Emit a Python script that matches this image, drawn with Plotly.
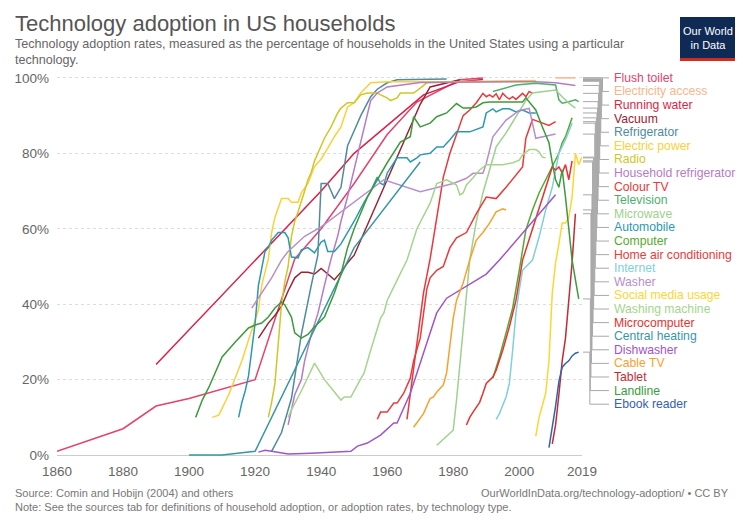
import plotly.graph_objects as go

# ---------------- data (year, % of households) ----------------
flush_toilet = [(1860, 1), (1880, 7), (1890, 13), (1900, 15), (1920, 20), (1932, 52), (1940, 60),
                (1950, 72), (1960, 85), (1969, 93.6), (1982, 99.5), (1989, 100)]
electricity_access = [(2011, 100), (2012, 100), (2013, 100), (2014, 100), (2015, 100), (2016, 100), (2017, 100)]
running_water = [(1890, 24), (1940, 70), (1950, 80), (1960, 87.5), (1971, 95.5), (1982, 99), (1989, 99.6)]
vacuum = [(1921, 31), (1924, 35), (1926, 37), (1928, 39.5), (1930, 43.5), (1932, 47), (1934, 48.5), (1936, 48.5),
          (1938, 48), (1940, 49.5), (1942, 48), (1944, 46.5), (1946, 48.5), (1948, 51), (1950, 53), (1960, 73),
          (1970, 93), (1973, 97.6), (1982, 99.5)]
refrigerator = [(1925, 1), (1928, 6), (1931, 15), (1934, 32), (1937, 45), (1939, 53), (1940, 72), (1942, 72),
                (1943, 70), (1944, 68), (1946, 71), (1948, 82), (1950, 86), (1952, 90), (1955, 95), (1957, 97),
                (1960, 98.7), (1963, 99.5), (1978, 99.7)]
electric_power = [(1907, 10), (1909, 10.6), (1912, 16), (1914, 20.7), (1916, 25), (1918, 30.5), (1921, 38.5),
                  (1922, 45), (1924, 52), (1925, 59), (1926, 63), (1928, 68), (1930, 68), (1931, 67), (1933, 67),
                  (1934, 69.5), (1936, 72), (1938, 76.5), (1940, 78.5), (1942, 81.4), (1944, 84.4), (1946, 87),
                  (1948, 92.3), (1950, 93.4), (1952, 96), (1955, 98.7), (1960, 99), (1980, 99), (2005, 99.3)]
radio = [(1924, 10), (1925, 14), (1926, 19), (1927, 30), (1928, 40), (1929, 46), (1930, 50), (1931, 58), (1932, 62),
         (1933, 64.5), (1934, 67), (1935, 70), (1936, 73), (1937, 75), (1938, 78), (1939, 80), (1940, 82), (1941, 84),
         (1943, 87), (1945, 90.7), (1946, 92), (1948, 93.4), (1950, 93.4), (1952, 95.5), (1954, 96), (1957, 96),
         (1958, 95.5), (1960, 94.7), (1961, 94), (1963, 94.7), (1964, 96), (1968, 96), (1970, 97.3), (1972, 98.7),
         (1980, 99), (2005, 99.1)]
household_refrigerator = [(1930, 8), (1931, 12), (1932, 16), (1934, 20), (1935, 25), (1937, 32), (1939, 37.5),
                          (1941, 45), (1943, 52), (1945, 58), (1946, 62), (1948, 68.5), (1950, 76), (1952, 83),
                          (1954, 90.7), (1955, 94), (1957, 96), (1960, 97.6), (1970, 98.8), (1990, 99), (2005, 99),
                          (2011, 98.7), (2017, 98)]
colour_tv = [(1966, 9.5), (1967, 16.4), (1969, 29.7), (1971, 43), (1973, 52), (1975, 63), (1977, 73.7), (1979, 80),
             (1981, 85), (1983, 90), (1985, 91.5), (1987, 93.4), (1989, 95.9), (1990, 95.0), (1991, 95.5),
             (1992, 94.9), (1993, 95.8), (1994, 94.2), (1995, 95.9), (1996, 95.0), (1997, 94.4), (1998, 95.0),
             (1999, 94.3), (2000, 95.0), (2001, 95.9), (2002, 95.0), (2003, 96.4), (2004, 95.9)]
television = [(1992, 96.4), (1999, 98.1), (2005, 98.6), (2011, 98.1), (2012, 94.2), (2013, 93.3), (2015, 93.7),
              (2017, 94.2), (2018, 93.7)]
microwave = [(1975, 2.6), (1980, 6.6), (1981, 14.6), (1983, 34), (1985, 51.7), (1987, 62), (1989, 69.5),
             (1991, 75.6), (1993, 81.7), (1996, 85.4), (1999, 89.7), (2002, 94), (2004, 96), (2011, 96.8),
             (2013, 95), (2015, 93.3), (2017, 92)]
automobile = [(1915, 10), (1916, 14), (1917, 17), (1918, 21), (1919, 28), (1920, 35), (1921, 45), (1922, 50),
              (1923, 54), (1924, 55), (1925, 57), (1927, 59), (1929, 59), (1930, 57.6), (1931, 52.5), (1933, 52.3),
              (1934, 54.4), (1936, 55), (1937, 54.4), (1938, 53.6), (1940, 56.5), (1941, 57), (1942, 54),
              (1944, 54), (1946, 56), (1950, 62), (1953, 67), (1955, 70), (1957, 73.7), (1958, 72), (1959, 71.6),
              (1960, 74.8), (1963, 78.8), (1966, 78.8), (1967, 77.7), (1969, 78.8), (1970, 79.6), (1973, 80),
              (1975, 81.7), (1977, 81.7), (1979, 83.6), (1981, 85.7), (1985, 85.7), (1989, 87), (1990, 90.7),
              (1992, 91.8), (1993, 91), (1995, 91.8), (1997, 91.8), (1999, 91), (2001, 91.5), (2003, 90.7),
              (2005, 90.7)]
computer = [(1992, 20.4), (1994, 26), (1996, 32.4), (1998, 39), (2000, 49), (2002, 59.7), (2004, 65), (2006, 69.5),
            (2008, 73), (2010, 76.4), (2012, 80), (2013, 82.8), (2014, 84.4), (2016, 89.4)]
home_air_conditioning = [(1957, 9.5), (1958, 11.4), (1960, 11.4), (1962, 13.8), (1963, 13.8), (1965, 16.4),
                         (1967, 20.4), (1968, 25), (1970, 31), (1971, 38), (1972, 44), (1973, 47), (1975, 49),
                         (1977, 50), (1979, 55), (1981, 57.6), (1984, 59), (1987, 64), (1990, 68.4), (1993, 68),
                         (1996, 71), (2001, 76.4), (2002, 84), (2004, 89), (2007, 88), (2009, 87.4), (2011, 88.4)]
internet = [(1993, 9.5), (1994, 11), (1996, 15.4), (1997, 19), (1998, 27.8), (1999, 37.7), (2000, 43.8),
            (2001, 49), (2004, 51.7), (2006, 57.8), (2008, 65), (2010, 71), (2012, 80), (2014, 83.6), (2016, 88)]
washer = [(1919, 39), (1922, 43), (1925, 47), (1928, 51.7), (1930, 54), (1935, 58), (1940, 60.5), (1959, 73),
          (1970, 69.8), (1980, 72), (1984, 73.4), (1986, 74.7), (1989, 74.7), (1990, 77.3), (1992, 84.4),
          (1996, 88.8), (2000, 91.4), (2003, 91.9), (2005, 84), (2011, 85.1)]
social_media_usage = [(2005, 5), (2006, 10), (2008, 16.4), (2009, 25), (2010, 43), (2011, 51), (2012, 56),
                      (2013, 61.5), (2014, 61.5), (2015, 63), (2016, 68.4), (2017, 80), (2018, 77), (2019, 79)]
washing_machine = [(1930, 10), (1931, 12), (1934, 17), (1938, 24.4), (1941, 20), (1944, 16.7), (1946, 14.6),
                   (1947, 15.4), (1949, 15.4), (1951, 18.6), (1953, 21.8), (1955, 27.8), (1958, 36.3), (1959, 37.7),
                   (1960, 41), (1963, 46.4), (1966, 51.7), (1969, 60), (1973, 66.8), (1975, 72), (1978, 73),
                   (1981, 71.6), (1982, 69), (1983, 69.5), (1984, 71.6), (1986, 73.5), (1988, 75.6), (1990, 77),
                   (1995, 77), (1998, 77.5), (2000, 78.2), (2001, 79.6), (2003, 81), (2005, 81), (2006, 80.4),
                   (2007, 79), (2008, 78.8)]
microcomputer = [(1984, 8), (1985, 10), (1986, 11.4), (1988, 14), (1989, 16.4), (1990, 19), (1992, 20.7),
                 (1993, 22.5), (1995, 27.8), (1997, 34), (1999, 41), (2000, 47), (2001, 51.7), (2010, 76.4),
                 (2011, 75.6), (2012, 76.4), (2013, 74.8), (2014, 77), (2015, 73), (2016, 78)]
central_heating = [(1900, 0), (1910, 0), (1920, 1), (1950, 55), (1970, 77.7)]
dishwasher = [(1921, 0.8), (1923, 1.3), (1925, 1), (1930, 0.3), (1937, 0.5), (1946, 0.8), (1949, 1), (1951, 2.4),
              (1954, 3.2), (1958, 5.3), (1962, 8.5), (1963, 8.5), (1967, 16.4), (1972, 29.7), (1975, 37.7),
              (1978, 41.6), (1990, 48), (1994, 51.7), (2011, 69)]
cable_tv = [(1968, 7.4), (1969, 8.5), (1971, 11), (1973, 15), (1974, 15.4), (1975, 16.7), (1977, 18.6),
            (1978, 21.8), (1979, 28.6), (1980, 36.3), (1981, 41), (1983, 45.6), (1985, 51.7), (1987, 57),
            (1989, 59), (1991, 61.5), (1993, 64.5), (1995, 65.3), (1996, 65)]
tablet = [(2010, 3), (2011, 8), (2012, 16), (2013, 25), (2014, 31), (2015, 40), (2016, 51), (2017, 64)]
landline = [(1902, 10), (1904, 14.6), (1906, 18), (1910, 26), (1914, 30), (1918, 33.7), (1920, 34.5), (1922, 35),
            (1924, 36.6), (1926, 39), (1928, 40.6), (1929, 39.8), (1931, 36.6), (1932, 32.4), (1934, 31),
            (1936, 32), (1938, 34), (1941, 36.6), (1944, 43), (1946, 48), (1948, 55), (1950, 60), (1954, 68.4),
            (1960, 77.5), (1964, 83), (1967, 84.4), (1968, 89.7), (1970, 87), (1973, 88), (1975, 89.7),
            (1978, 90.7), (1981, 93.2), (1983, 92), (1985, 92), (1987, 92.3), (1989, 93.4), (1991, 93.6),
            (2001, 93.6), (2002, 94.7), (2005, 91.5), (2007, 87), (2009, 82.8), (2010, 77.5), (2011, 73),
            (2012, 71), (2013, 75.6), (2014, 68.4), (2015, 59), (2016, 51.7), (2018, 41.4)]
ebook_reader = [(2009, 2), (2010, 7), (2011, 13), (2012, 19.5), (2013, 23.3), (2014, 24.3), (2015, 25),
                (2016, 26.3), (2017, 27), (2018, 27.3)]

# legend order (top to bottom) with colours
series = [
    ("Flush toilet", flush_toilet, "#e2436f"),
    ("Electricity access", electricity_access, "#f8b68c"),
    ("Running water", running_water, "#dc1f47"),
    ("Vacuum", vacuum, "#9a2233"),
    ("Refrigerator", refrigerator, "#4f8b9b"),
    ("Electric power", electric_power, "#fcd03a"),
    ("Radio", radio, "#cfc726"),
    ("Household refrigerator", household_refrigerator, "#b47cc8"),
    ("Colour TV", colour_tv, "#e8383b"),
    ("Television", television, "#4fae6c"),
    ("Microwave", microwave, "#9fd08e"),
    ("Automobile", automobile, "#2b99b0"),
    ("Computer", computer, "#55aa2f"),
    ("Home air conditioning", home_air_conditioning, "#ea3a3a"),
    ("Internet", internet, "#80cfdb"),
    ("Washer", washer, "#b78fca"),
    ("Social media usage", social_media_usage, "#fdd634"),
    ("Washing machine", washing_machine, "#a6d48e"),
    ("Microcomputer", microcomputer, "#e5332f"),
    ("Central heating", central_heating, "#3896a4"),
    ("Dishwasher", dishwasher, "#a055c8"),
    ("Cable TV", cable_tv, "#f8a12e"),
    ("Tablet", tablet, "#c42a33"),
    ("Landline", landline, "#3c9b3c"),
    ("Ebook reader", ebook_reader, "#3461b0"),
]

x_ticks = [1860, 1880, 1900, 1920, 1940, 1960, 1980, 2000, 2019]
y_ticks = [0, 20, 40, 60, 80, 100]

# ---------------- layout geometry ----------------
W, H = 744, 525
L, R, T, B = 57, 582, 76, 457
Y0, Y1 = -0.5, 100.5
FONT = "Liberation Sans, Arial, sans-serif"


def px_x(px):
    return (px - L) / (R - L)


def px_y(py):
    return (B - py) / (B - T)


def val_y(v):
    return (v - Y0) / (Y1 - Y0)


fig = go.Figure()
for name, pts, col in series:
    fig.add_trace(go.Scatter(
        x=[p[0] for p in pts], y=[p[1] for p in pts], mode="lines", name=name,
        line=dict(color=col, width=1.5), showlegend=False, hoverinfo="x+y+name"))

shapes = []
annotations = []
n = len(series)
step = (100 - 13.5) / (n - 1)
for i, (name, pts, col) in enumerate(series):
    label_v = 100 - i * step
    end_v = pts[-1][1]
    xm = px_x(603 - i * 0.55)
    path = "M {:.4f},{:.4f} L {:.4f},{:.4f} L {:.4f},{:.4f} L {:.4f},{:.4f}".format(
        px_x(583), val_y(end_v), xm, val_y(end_v), xm, val_y(label_v), px_x(609), val_y(label_v))
    shapes.append(dict(type="path", path=path, xref="paper", yref="paper",
                       line=dict(color="#a8a8a8", width=1)))
    annotations.append(dict(text=name, x=px_x(612), y=val_y(label_v), xref="paper", yref="paper",
                            xanchor="left", yanchor="middle", showarrow=False,
                            font=dict(size=12.2, color=col, family=FONT)))

# title & subtitle
annotations.append(dict(text="Technology adoption in US households", x=px_x(13), y=px_y(9),
                        xref="paper", yref="paper", xanchor="left", yanchor="top", showarrow=False,
                        font=dict(size=22, color="#555555", family=FONT)))
annotations.append(dict(text="Technology adoption rates, measured as the percentage of households in the United States using a particular<br>technology.",
                        x=px_x(13), y=px_y(35), xref="paper", yref="paper", xanchor="left", yanchor="top",
                        showarrow=False, align="left",
                        font=dict(size=12.6, color="#666666", family=FONT)))
# logo
shapes.append(dict(type="rect", xref="paper", yref="paper", x0=px_x(680), x1=px_x(735), y0=px_y(58), y1=px_y(17),
                   fillcolor="#0f2b55", line=dict(width=0)))
shapes.append(dict(type="rect", xref="paper", yref="paper", x0=px_x(680), x1=px_x(735), y0=px_y(61), y1=px_y(58),
                   fillcolor="#d42b21", line=dict(width=0)))
annotations.append(dict(text="Our World<br>in Data", x=px_x(707.5), y=px_y(37.5), xref="paper", yref="paper",
                        xanchor="center", yanchor="middle", showarrow=False,
                        font=dict(size=11, color="white", family=FONT)))
# footer
annotations.append(dict(text="Source: Comin and Hobijn (2004) and others", x=px_x(13), y=px_y(493),
                        xref="paper", yref="paper", xanchor="left", yanchor="middle", showarrow=False,
                        font=dict(size=11, color="#777777", family=FONT)))
annotations.append(dict(text="OurWorldInData.org/technology-adoption/ • CC BY", x=px_x(731), y=px_y(493),
                        xref="paper", yref="paper", xanchor="right", yanchor="middle", showarrow=False,
                        font=dict(size=11, color="#777777", family=FONT)))
annotations.append(dict(text="Note: See the sources tab for definitions of household adoption, or adoption rates, by technology type.",
                        x=px_x(13), y=px_y(507), xref="paper", yref="paper", xanchor="left", yanchor="middle",
                        showarrow=False, font=dict(size=11, color="#777777", family=FONT)))

fig.update_layout(
    width=W, height=H,
    margin=dict(l=L, r=W - R, t=T, b=H - B, pad=0),
    paper_bgcolor="white", plot_bgcolor="white",
    font=dict(family=FONT, color="#666666"),
    shapes=shapes, annotations=annotations,
    hovermode="closest",
    xaxis=dict(range=[1860, 2019], tickvals=x_ticks, ticktext=[str(t) for t in x_ticks],
               showgrid=False, zeroline=False, showline=False, ticks="",
               tickfont=dict(size=13.5, color="#666666"), ticklabelstandoff=4),
    yaxis=dict(range=[Y0, Y1], tickvals=y_ticks, ticktext=[f"{t}%" for t in y_ticks],
               showgrid=True, gridcolor="#dddddd", griddash="3px,3px", gridwidth=1,
               zeroline=True, zerolinecolor="#cccccc", zerolinewidth=1, showline=False, ticks="",
               tickfont=dict(size=13.5, color="#666666"), ticklabelstandoff=7),
)

fig.write_html("out.html")
